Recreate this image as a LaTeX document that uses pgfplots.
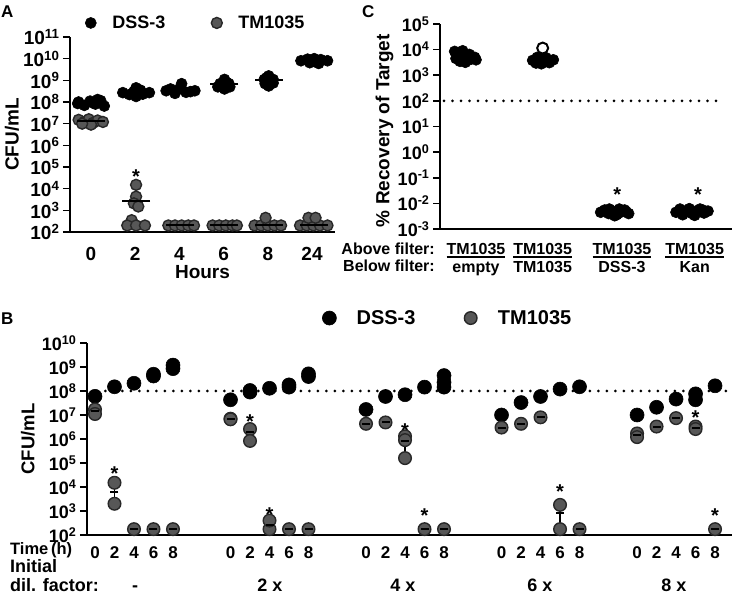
\documentclass[border=0pt]{standalone}
\usepackage{fontspec}
\setmainfont{Liberation Sans}
\usepackage{pgfplots}
\pgfplotsset{compat=1.18}

\definecolor{tmfill}{HTML}{575757}
\definecolor{tmedge}{HTML}{282828}
\newcommand{\fnt}[1]{\fontsize{#1}{#1}\selectfont\bfseries}
\newcommand{\fntC}{\fontsize{16}{18}\selectfont\bfseries}
\newcommand{\ul}[1]{\setbox0\hbox{#1}\rlap{\rule[-3pt]{\wd0}{1.6pt}}\box0}

\pgfplotsset{
  mypanel/.style={
    scale only axis, clip=false,
    axis lines*=left,
    axis line style={line width=1.6pt},
    yminorticks=false,
    tick align=outside, ytick pos=left,
    major tick length=7pt,
    every tick/.style={line width=1.6pt, black},
    xtick style={draw=none},
    yticklabel style={font=\fnt{18}},
    xticklabel style={font=\fnt{17}},
    label style={font=\fnt{18}},
    legend style={draw=none, fill=none, inner sep=0pt, font=\fnt{18}},
    legend columns=2,
  },
  mydss/.style={only marks, mark=*, mark options={fill=black, draw=black, line width=0.6pt}},
  mytm/.style={only marks, mark=*, mark options={fill=tmfill, draw=tmedge, line width=1.4pt}},
  mymean/.style={only marks, mark=-, mark options={black, line width=2pt}, forget plot},
  mydot/.style={black, line width=3pt, line cap=round, dash pattern=on 0pt off 8.5pt, forget plot},
}
\tikzset{mystar/.style={font=\fnt{20}, yshift=-5pt}}

\begin{document}
\begin{tikzpicture}
\path[use as bounding box] (0pt,0pt) rectangle (733pt,612pt);

% panel letters
\node[anchor=base west, font=\fnt{17}, inner sep=0pt] at (1pt,594pt) {A};
\node[anchor=base west, font=\fnt{17}, inner sep=0pt] at (362pt,594pt) {C};
\node[anchor=base west, font=\fnt{17}, inner sep=0pt] at (1pt,287pt) {B};

% ---------------- A ----------------
\begin{axis}[mypanel, ymode=log,
  at={(70pt,380pt)}, anchor=south west,
  width=265pt, height=195pt,
  xmin=-0.475, xmax=5.52,
  ymin=1e2, ymax=1e11,
  xtick={0,1,2,3,4,5}, xticklabels={0,2,4,6,8,24},
  xticklabel style={font=\fnt{19}, yshift=-5pt},
  yticklabel style={font=\fnt{19}},
  ytick={1e2,1e3,1e4,1e5,1e6,1e7,1e8,1e9,1e10,1e11},
  yticklabels={10\textsuperscript{2},10\textsuperscript{3},10\textsuperscript{4},10\textsuperscript{5},10\textsuperscript{6},10\textsuperscript{7},10\textsuperscript{8},10\textsuperscript{9},10\textsuperscript{10},10\textsuperscript{11}},
  xlabel={Hours}, ylabel={CFU/mL},
  xlabel style={at={(axis description cs:0.5,-0.205)}, anchor=center, font=\fnt{19}},
  ylabel style={at={(axis description cs:-0.219,0.5)}, anchor=center, font=\fnt{19}},
  legend image code/.code={\draw[#1] plot coordinates {(0pt,0pt)};},
  legend style={at={(axis description cs:0.057,1.072)}, anchor=west,
    /tikz/every even column/.append style={column sep=44pt}},
]
\addplot[mydss, mark size=5.5pt] coordinates {
 (-0.28,1.0e8) (-0.15,7.0e7) (-0.02,1.1e8) (0.1,8.0e7) (0.22,1.15e8) (0.3,6.5e7) (-0.3,8.5e7) (0.15,1.3e8) (0.05,9e7)
 (1.02,4.5e8) (0.72,2.7e8) (1.32,2.7e8) (0.87,2.2e8) (1.17,2.3e8) (1.02,1.8e8) (0.97,3.0e8) (1.12,3.5e8)
 (2.05,7.0e8) (1.7,3.3e8) (2.35,3.3e8) (1.9,2.5e8) (2.15,2.8e8) (2.0,4.0e8) (1.8,4.0e8) (2.25,3.0e8)
 (3.02,1.1e9) (2.92,7.0e8) (3.12,7.0e8) (2.87,5.0e8) (3.14,5.0e8) (3.02,4.0e8) (3.07,8.0e8) (2.97,6.0e8)
 (4.02,1.6e9) (3.92,1.1e9) (4.12,1.1e9) (3.94,7.0e8) (4.12,7.5e8) (4.02,5.5e8) (4.07,9.0e8) (3.97,1.3e9)
 (4.75,8.0e9) (4.9,9.5e9) (5.05,1.0e10) (5.2,9.0e9) (5.35,8.0e9) (4.95,6.5e9) (5.15,6.0e9) (5.05,7.5e9)
};
\addlegendentry{\makebox[14pt]{}DSS-3}
\addplot[mytm, mark size=5.5pt] coordinates {
 (-0.28,1.5e7) (-0.15,1.2e7) (-0.05,1.6e7) (0.05,1.1e7) (0.15,1.4e7) (0.27,1.2e7) (0.0,9e6) (-0.2,1.0e7)
 (1.02,1.5e4) (1.02,4.3e3) (0.97,2.1e3) (1.07,1.5e3) (0.92,350) (0.82,200) (1.02,200) (1.22,200)
 (1.75,200) (1.9,200) (2.05,200) (2.2,200) (2.33,200)
 (2.75,200) (2.9,200) (3.05,200) (3.2,200) (3.3,200)
 (3.7,200) (3.85,200) (4.0,200) (4.15,200) (4.3,200) (3.95,450)
 (4.73,200) (4.88,200) (5.03,200) (5.18,200) (5.35,200) (4.92,450) (5.08,450)
};
\addlegendentry{\makebox[14pt]{}TM1035}
\addplot[mymean, mark size=14pt] coordinates {
 (0.0,1.3e7) (1.02,2.7e8) (1.02,2.7e3) (2.02,3.5e8) (2.02,200) (3.02,6.8e8) (3.02,200)
 (4.02,1.0e9) (4.02,210) (5.05,8.0e9) (5.05,220)
};
\node[mystar] at (axis cs:1.02,6e4) {*};
\end{axis}

% ---------------- C ----------------
\begin{axis}[mypanel, ymode=log,
  at={(440pt,383pt)}, anchor=south west,
  width=292pt, height=205pt,
  xmin=0.46, xmax=4.84,
  ymin=1e-3, ymax=1e5,
  xtick={1,2,3.19,4.28},
  xticklabels={{\ul{TM1035}\\empty},{\ul{TM1035}\\TM1035},{\ul{TM1035}\\DSS-3},{\ul{TM1035}\\Kan}},
  xticklabel style={font=\fntC, align=center, yshift=-4pt},
  ytick={1e-3,1e-2,1e-1,1e0,1e1,1e2,1e3,1e4,1e5},
  yticklabels={10\textsuperscript{-3},10\textsuperscript{-2},10\textsuperscript{-1},10\textsuperscript{0},10\textsuperscript{1},10\textsuperscript{2},10\textsuperscript{3},10\textsuperscript{4},10\textsuperscript{5}},
  ylabel={\% Recovery of Target},
  ylabel style={at={(axis description cs:-0.19,0.48)}, anchor=center, font=\fnt{19}},
]
\addplot[mydot] coordinates {(0.52,1e2) (4.61,1e2)};
\addplot[only marks, mark=*, mark size=5.5pt, mark options={fill=white, draw=black, line width=2pt}] coordinates {(2.0,1.15e4)};
\addplot[mydss, mark size=5.5pt] coordinates {
 (0.68,8.5e3) (0.74,6e3) (0.8,9e3) (0.86,5e3) (0.92,4.2e3) (0.98,5e3) (0.76,3.5e3) (0.9,6.5e3) (0.7,4.5e3) (1.0,4e3) (0.84,3.2e3) (0.8,4.5e3)
 (1.85,3.8e3) (1.9,3e3) (1.95,4.5e3) (2.0,3.4e3) (2.05,4.8e3) (2.1,3.1e3) (2.16,4e3) (1.92,5e3) (2.08,3.8e3) (1.98,2.8e3) (2.02,4.2e3)
 (2.87,4.5e-3) (2.93,5.5e-3) (2.99,4e-3) (3.05,5e-3) (3.11,3.6e-3) (3.17,4.5e-3) (3.23,5.5e-3) (3.29,4e-3) (3.0,6e-3) (3.15,6e-3) (3.08,3.3e-3) (3.25,4.8e-3)
 (4.0,4.5e-3) (4.06,6e-3) (4.12,4.5e-3) (4.18,5.5e-3) (4.24,4e-3) (4.3,5e-3) (4.36,6e-3) (4.42,4.2e-3) (4.48,5e-3) (4.1,3.6e-3) (4.28,3.4e-3) (4.4,5.5e-3) (4.2,6.2e-3)
};
\node[mystar] at (axis cs:3.12,0.033) {*};
\node[mystar] at (axis cs:4.33,0.033) {*};
\end{axis}
\node[anchor=base east, font=\fntC, inner sep=0pt] at (435pt,357.6pt) {Above filter:};
\node[anchor=base east, font=\fntC, inner sep=0pt] at (435pt,340pt) {Below filter:};

% ---------------- B ----------------
\begin{axis}[mypanel, ymode=log,
  at={(87pt,77pt)}, anchor=south west,
  width=645pt, height=192pt,
  xmin=-0.41, xmax=32.67,
  ymin=1e2, ymax=1e10,
  unbounded coords=jump,
  xtick={0,1,2,3,4,6.95,7.95,8.95,9.95,10.95,13.9,14.9,15.9,16.9,17.9,20.85,21.85,22.85,23.85,24.85,27.8,28.8,29.8,30.8,31.8},
  xticklabels={0,2,4,6,8,0,2,4,6,8,0,2,4,6,8,0,2,4,6,8,0,2,4,6,8},
  xticklabel style={font=\fnt{17}, yshift=-1pt},
  ytick={1e2,1e3,1e4,1e5,1e6,1e7,1e8,1e9,1e10},
  yticklabels={10\textsuperscript{2},10\textsuperscript{3},10\textsuperscript{4},10\textsuperscript{5},10\textsuperscript{6},10\textsuperscript{7},10\textsuperscript{8},10\textsuperscript{9},10\textsuperscript{10}},
  ylabel={CFU/mL},
  ylabel style={at={(axis description cs:-0.0915,0.5)}, anchor=center, font=\fnt{18.5}},
  legend image code/.code={\path (-8pt,0pt) (25pt,0pt); \draw[#1] plot coordinates {(0pt,0pt)};},
  legend style={at={(axis description cs:0.3628,1.130)}, anchor=west, font=\fnt{20},
    /tikz/every even column/.append style={column sep=45pt}},
]
\addplot[mydot] coordinates {(0.1,1e8) (32.67,1e8)};
\addplot[mydss, mark size=7pt] coordinates {
 (0,6e7) (1,1.5e8) (2,2.1e8) (3,5e8) (3,4.2e8) (4,1.2e9) (4,8.5e8)
 (6.95,4.3e7) (7.95,1.05e8) (7.95,9e7) (8.95,1.3e8) (9.95,1.8e8) (9.95,1.45e8) (10.95,5.2e8) (10.95,4e8)
 (13.9,1.7e7) (14.9,5.9e7) (15.9,7e7) (16.9,1.45e8) (17.9,4.4e8) (17.9,2.3e8) (17.9,1.45e8)
 (20.85,1e7) (21.85,3.3e7) (22.85,5.9e7) (23.85,1.2e8) (24.85,1.5e8)
 (27.8,1e7) (28.8,2.1e7) (29.8,4.6e7) (30.8,7.6e7) (30.8,4.3e7) (31.8,1.65e8)
};
\addlegendentry{DSS-3}
\addplot[black, line width=1.5pt, forget plot] coordinates {
 (1,2e3) (1,1.3e4) (1,nan) (23.85,175) (23.85,1.5e3) (23.85,nan)
 (7.95,8.3e5) (7.95,2.6e6) (7.95,nan) (15.9,1.6e5) (15.9,1.3e6)
};
\addplot[mytm, mark size=6.3pt] coordinates {
 (0,1.7e7) (0,1.1e7) (1,1.5e4) (1,2e3) (2,175) (3,175) (4,175)
 (6.95,7e6) (6.95,6.6e6) (7.95,2.6e6) (7.95,8.3e5) (8.95,175) (8.95,400) (9.95,175) (10.95,175)
 (13.9,4.3e6) (14.9,4.9e6) (15.9,1.3e6) (15.9,9e5) (15.9,1.6e5) (16.9,175) (17.9,175)
 (20.85,3e6) (21.85,4.3e6) (22.85,8e6) (23.85,175) (23.85,1.8e3) (24.85,175)
 (27.8,1.7e6) (27.8,1.2e6) (28.8,3.3e6) (29.8,7.4e6) (30.8,3.3e6) (30.8,2.6e6) (31.8,175)
};
\addlegendentry{TM1035}
\addplot[mymean, mark size=4pt] coordinates {
 (0,1.4e7) (1,6e3) (2,175) (3,175) (4,175)
 (6.95,6.8e6) (7.95,2e6) (8.95,260) (9.95,175) (10.95,175)
 (13.9,4.3e6) (14.9,4.9e6) (15.9,7.9e5) (16.9,175) (17.9,175)
 (20.85,3e6) (21.85,4.3e6) (22.85,8e6) (23.85,8e2) (24.85,175)
 (27.8,1.45e6) (28.8,3.3e6) (29.8,7.4e6) (30.8,3e6) (31.8,175)
};
\node[mystar] at (axis cs:1,5.6e4) {*};
\node[mystar] at (axis cs:7.95,8.7e6) {*};
\node[mystar] at (axis cs:8.95,1.17e3) {*};
\node[mystar] at (axis cs:15.9,3.5e6) {*};
\node[mystar] at (axis cs:16.9,1.0e3) {*};
\node[mystar] at (axis cs:23.85,1.0e4) {*};
\node[mystar] at (axis cs:30.8,1.2e7) {*};
\node[mystar] at (axis cs:31.8,1.0e3) {*};
\end{axis}
\node[anchor=base west, font=\fnt{16.5}, inner sep=0pt] at (10pt,57pt) {Time\,(h)};
\node[anchor=base west, font=\fnt{18}, inner sep=0pt] at (10pt,39pt) {Initial};
\node[anchor=base west, font=\fnt{18}, inner sep=0pt] at (10pt,20pt) {dil. factor:};
\node[anchor=base, font=\fnt{18}, inner sep=0pt] at (135pt,20pt) {-};
\node[anchor=base, font=\fnt{18}, inner sep=0pt] at (270pt,20pt) {2 x};
\node[anchor=base, font=\fnt{18}, inner sep=0pt] at (403pt,20pt) {4 x};
\node[anchor=base, font=\fnt{18}, inner sep=0pt] at (540pt,20pt) {6 x};
\node[anchor=base, font=\fnt{18}, inner sep=0pt] at (674pt,20pt) {8 x};
\end{tikzpicture}
\end{document}
